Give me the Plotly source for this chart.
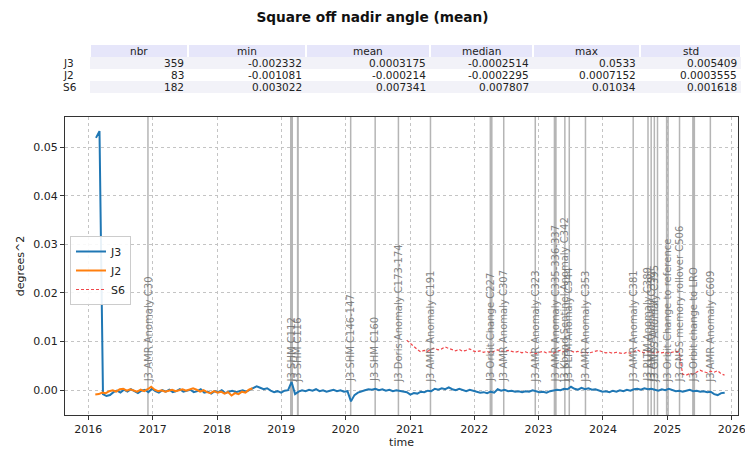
import pandas as pd
import plotly.graph_objects as go

title = "Square off nadir angle (mean)"
x_title = "time"
y_title = "degrees^2"

# one value every two cycles (2 x 9.9156 days)
step_days = 19.83

j3_start = "2016-02-14"
j3_values = [
    0.0519, 0.0533, -0.0008, -0.0012, -0.0010, -0.0004, -0.0001, -0.0005, 0.0001, -0.0003,
    0.0002, -0.0002, -0.0006, -0.0001, 0.0001, -0.0004, 0.0003, -0.0002, -0.0005, 0.0000,
    -0.0003, 0.0001, -0.0004, -0.0002, 0.0002, -0.0003, -0.0001, 0.0001, -0.0004, -0.0002,
    0.0002, -0.0005, -0.0003, -0.0007, -0.0002, -0.0004, 0.0000, -0.0006, -0.0003, -0.0001,
    -0.0004, -0.0002, 0.0000, -0.0003, 0.0001, 0.0004, 0.0008, 0.0005, 0.0002, 0.0004,
    -0.0001, -0.0004, -0.0002, -0.0005, -0.0001, 0.0000, 0.0017, -0.0008, -0.0003, 0.0000,
    -0.0002, 0.0001, -0.0001, 0.0002, -0.0002, 0.0000, -0.0003, -0.0001, 0.0001, -0.0002,
    0.0000, -0.0003, -0.0002, -0.0023, -0.0010, -0.0005, -0.0002, 0.0000, 0.0002, 0.0001,
    0.0003, 0.0000, 0.0002, -0.0001, 0.0001, -0.0002, 0.0000, -0.0001, -0.0002, -0.0004,
    -0.0009, -0.0006, -0.0007, -0.0003, -0.0004, -0.0001, -0.0002, 0.0003, 0.0001, 0.0004,
    0.0002, 0.0006, 0.0002, 0.0000, 0.0003, 0.0001, -0.0002, 0.0001, -0.0001, -0.0003,
    -0.0005, -0.0004, -0.0006, -0.0003, -0.0005, 0.0002, -0.0001, 0.0001, -0.0002, -0.0001,
    -0.0003, -0.0002, -0.0004, -0.0002, -0.0003, 0.0000, -0.0002, -0.0004, -0.0003, -0.0005,
    -0.0002, -0.0001, 0.0001, 0.0000, 0.0003, 0.0002, 0.0007, 0.0003, 0.0001, 0.0005,
    0.0002, 0.0004, 0.0001, 0.0002, -0.0001, -0.0003, -0.0002, -0.0004, -0.0001, -0.0003,
    0.0000, -0.0002, 0.0001, -0.0001, 0.0002, 0.0003, 0.0001, 0.0004, 0.0002, 0.0003,
    0.0001, -0.0001, 0.0002, 0.0000, 0.0003, 0.0000, -0.0002, -0.0001, -0.0003, -0.0001,
    0.0001, -0.0002, -0.0001, -0.0003, -0.0002, -0.0004, -0.0003, -0.0008, -0.0010, -0.0006,
    -0.0005,
]

j2_start = "2016-02-10"
j2_values = [
    -0.0009, -0.0008, -0.0005, -0.0006, -0.0002, 0.0000, -0.0003, 0.0002, 0.0003, -0.0001,
    0.0002, 0.0000, -0.0003, 0.0001, -0.0002, 0.0002, 0.0007, 0.0001, -0.0002, 0.0000,
    -0.0003, -0.0001, 0.0001, -0.0002, 0.0000, 0.0002, -0.0001, 0.0001, 0.0004, 0.0001,
    -0.0003, 0.0000, -0.0004, -0.0006, -0.0002, -0.0005, -0.0003, -0.0007, -0.0004, -0.0011,
    -0.0006, -0.0008, -0.0003, -0.0005, 0.0001, 0.0004,
]

s6_start = "2020-12-13"
s6_values = [
    0.0103, 0.0096, 0.0091, 0.0084, 0.0079, 0.0082, 0.0080, 0.0084, 0.0086, 0.0083,
    0.0085, 0.0089, 0.0086, 0.0083, 0.0081, 0.0084, 0.0080, 0.0082, 0.0085, 0.0081,
    0.0079, 0.0081, 0.0078, 0.0080, 0.0077, 0.0080, 0.0083, 0.0081, 0.0079, 0.0082,
    0.0080, 0.0078, 0.0080, 0.0077, 0.0079, 0.0076, 0.0078, 0.0075, 0.0078, 0.0080,
    0.0077, 0.0079, 0.0076, 0.0080, 0.0082, 0.0079, 0.0084, 0.0081, 0.0078, 0.0080,
    0.0077, 0.0079, 0.0076, 0.0078, 0.0080, 0.0082, 0.0079, 0.0077, 0.0078, 0.0076,
    0.0078, 0.0077, 0.0075, 0.0078, 0.0076, 0.0079, 0.0083, 0.0079, 0.0077, 0.0080,
    0.0078, 0.0076, 0.0079, 0.0077, 0.0078, 0.0076, 0.0078, 0.0080, 0.0079, 0.0033,
    0.0031, 0.0034, 0.0033, 0.0037, 0.0041, 0.0038, 0.0036, 0.0039, 0.0037, 0.0040,
    0.0034, 0.0031,
]

# statistics table
stat_cols = ["nbr", "min", "mean", "median", "max", "std"]
stat_rows = ["J3", "J2", "S6"]
stat_nbr = ["359", "83", "182"]
stat_min = ["-0.002332", "-0.001081", "0.003022"]
stat_mean = ["0.0003175", "-0.000214", "0.007341"]
stat_median = ["-0.0002514", "-0.0002295", "0.007807"]
stat_max = ["0.0533", "0.0007152", "0.01034"]
stat_std = ["0.005409", "0.0003555", "0.001618"]

# mission events
event_dates = [
    "2016-12-05", "2019-02-28", "2019-04-05", "2020-01-30", "2020-06-17",
    "2020-10-27", "2021-04-27", "2022-04-06", "2022-06-17", "2022-12-13",
    "2023-04-05", "2023-05-30", "2023-06-24", "2023-09-24", "2024-06-21",
    "2024-09-13", "2024-10-01", "2024-10-19", "2024-11-06", "2025-01-01",
    "2025-03-11", "2025-05-30", "2025-09-02",
]
event_labels = [
    "J3 AMR Anomaly C30", "J3 SHM C112", "J3 SHM C116", "J3 SHM C146-147", "J3 SHM C160",
    "J3 Doris Anomaly C173-174", "J3 AMR Anomaly C191", "J3 Orbit Change C227",
    "J3 AMR Anomaly C307", "J3 AMR Anomaly C323",
    "J3 AMR Anomaly C335-336-337", "J3 Kband Sentinel Anomaly C342", "J3 PLTM Anomaly C344",
    "J3 AMR Anomaly C353", "J3 AMR Anomaly C381",
    "J3 PLTM Anomaly C389", "J3 AMR Anomaly C392", "J3 GNSS Anomaly C395", "",
    "J3 Orbit Change to reference", "J3 GNSS memory rollover C506",
    "J3 Orbit change to LRO", "J3 AMR Anomaly C609",
]
event_widths = [
    1.5, 3, 2, 1.5, 1.5,
    1.5, 1.5, 3, 1.5, 1.5,
    3, 1.5, 1.5, 1.5, 1.5,
    1.5, 1.5, 1.5, 1.5, 3,
    1.5, 3, 1.5,
]

font = "DejaVu Sans"
W, H = 745, 450
ML, MR, MT, MB = 58, 5, 40, 35
PW, PH = W - ML - MR, H - MT - MB


def px(x):
    return (x - ML) / PW


def py(y):
    return (H - MB - y) / PH


step = pd.Timedelta(days=step_days)
j3_time = pd.date_range(j3_start, periods=len(j3_values), freq=step)
j2_time = pd.date_range(j2_start, periods=len(j2_values), freq=step)
s6_time = pd.date_range(s6_start, periods=len(s6_values), freq=step)

fig = go.Figure()

fig.add_trace(go.Scatter(x=j3_time, y=j3_values, name="J3", mode="lines",
                         line=dict(color="#1f77b4", width=2)))
fig.add_trace(go.Scatter(x=j2_time, y=j2_values, name="J2", mode="lines",
                         line=dict(color="#ff7f0e", width=2)))
fig.add_trace(go.Scatter(x=s6_time, y=s6_values, name="S6", mode="lines",
                         line=dict(color="#f0474b", width=1.2, dash="3px,2px")))

# event lines + labels
for d, lab, w in zip(event_dates, event_labels, event_widths):
    fig.add_shape(type="line", xref="x", yref="y domain", x0=d, x1=d, y0=0, y1=1,
                  line=dict(color="rgba(120,120,120,0.55)", width=w), layer="below")
    if lab:
        fig.add_annotation(x=d, y=0.0012, text=lab, textangle=-90, showarrow=False,
                           xanchor="center", yanchor="bottom",
                           font=dict(family=font, size=10, color="rgba(110,110,110,0.85)"))

# statistics table drawn above the axes (pixel layout of the cells)
col_edges = [90, 188, 306, 430, 533, 640, 741]
header_top, header_bot = 45, 57
row_tops = [57, 69, 81]
row_h = 12
row_bg = ["#f2f2f8", "#ffffff", "#f2f2f8"]
columns = [stat_nbr, stat_min, stat_mean, stat_median, stat_max, stat_std]
cell_font = dict(family=font, size=10.5, color="#222")

for c, name in enumerate(stat_cols):
    x0, x1 = col_edges[c], col_edges[c + 1]
    fig.add_shape(type="rect", xref="paper", yref="paper",
                  x0=px(x0 + 1), x1=px(x1 - 1), y0=py(header_bot), y1=py(header_top),
                  fillcolor="#e6e6fa", line_width=0)
    fig.add_annotation(xref="paper", yref="paper", x=px((x0 + x1) / 2),
                       y=py((header_top + header_bot) / 2), text=name, showarrow=False,
                       xanchor="center", yanchor="middle", borderpad=0, font=cell_font)
    for r, val in enumerate(columns[c]):
        top = row_tops[r]
        fig.add_shape(type="rect", xref="paper", yref="paper",
                      x0=px(x0), x1=px(x1), y0=py(top + row_h), y1=py(top),
                      fillcolor=row_bg[r], line_width=0)
        fig.add_annotation(xref="paper", yref="paper", x=px(x1 - 3),
                           y=py(top + row_h / 2), text=val, showarrow=False,
                           xanchor="right", yanchor="middle", borderpad=0, font=cell_font)

for r, name in enumerate(stat_rows):
    fig.add_annotation(xref="paper", yref="paper", x=px(62),
                       y=py(row_tops[r] + row_h / 2), text=name, showarrow=False,
                       xanchor="left", yanchor="middle", borderpad=0, font=cell_font)

axis_common = dict(
    showline=True, linecolor="#333", linewidth=1, mirror=True,
    showgrid=True, gridcolor="#c4c4c4", griddash="3px,3px", gridwidth=1,
    ticks="outside", ticklen=4, tickcolor="#333",
    tickfont=dict(family=font, size=11, color="#222"),
    zeroline=False, automargin=False, ticklabeloverflow="allow",
)

fig.update_layout(
    width=W, height=H,
    margin=dict(l=ML, r=MR, t=MT, b=MB),
    paper_bgcolor="white", plot_bgcolor="rgba(0,0,0,0)",
    font=dict(family=font, size=11, color="#222"),
    title=dict(text="<b>" + title + "</b>", x=0.5, xref="container", xanchor="center",
               y=1 - 17 / H, yanchor="middle",
               font=dict(family=font, size=13.7, color="#111")),
    xaxis=dict(axis_common, domain=[px(65), px(738)], type="date",
               range=["2015-08-22", "2026-02-06"], dtick="M12", tickformat="%Y",
               title=dict(text=x_title, standoff=2,
                          font=dict(family=font, size=11))),
    yaxis=dict(axis_common, domain=[0, py(117)], range=[-0.0051, 0.0562],
               dtick=0.01, tickformat=".2f",
               title=dict(text=y_title, standoff=6,
                          font=dict(family=font, size=11))),
    showlegend=True,
    legend=dict(x=px(70), y=py(236), xanchor="left", yanchor="top",
                bgcolor="rgba(255,255,255,0.9)", bordercolor="#cccccc", borderwidth=1,
                font=dict(family=font, size=11, color="#222"), itemwidth=30,
                tracegroupgap=0),
)

fig.write_html("out.html", config={"displayModeBar": False},
               post_script="document.body.style.margin='0';")
